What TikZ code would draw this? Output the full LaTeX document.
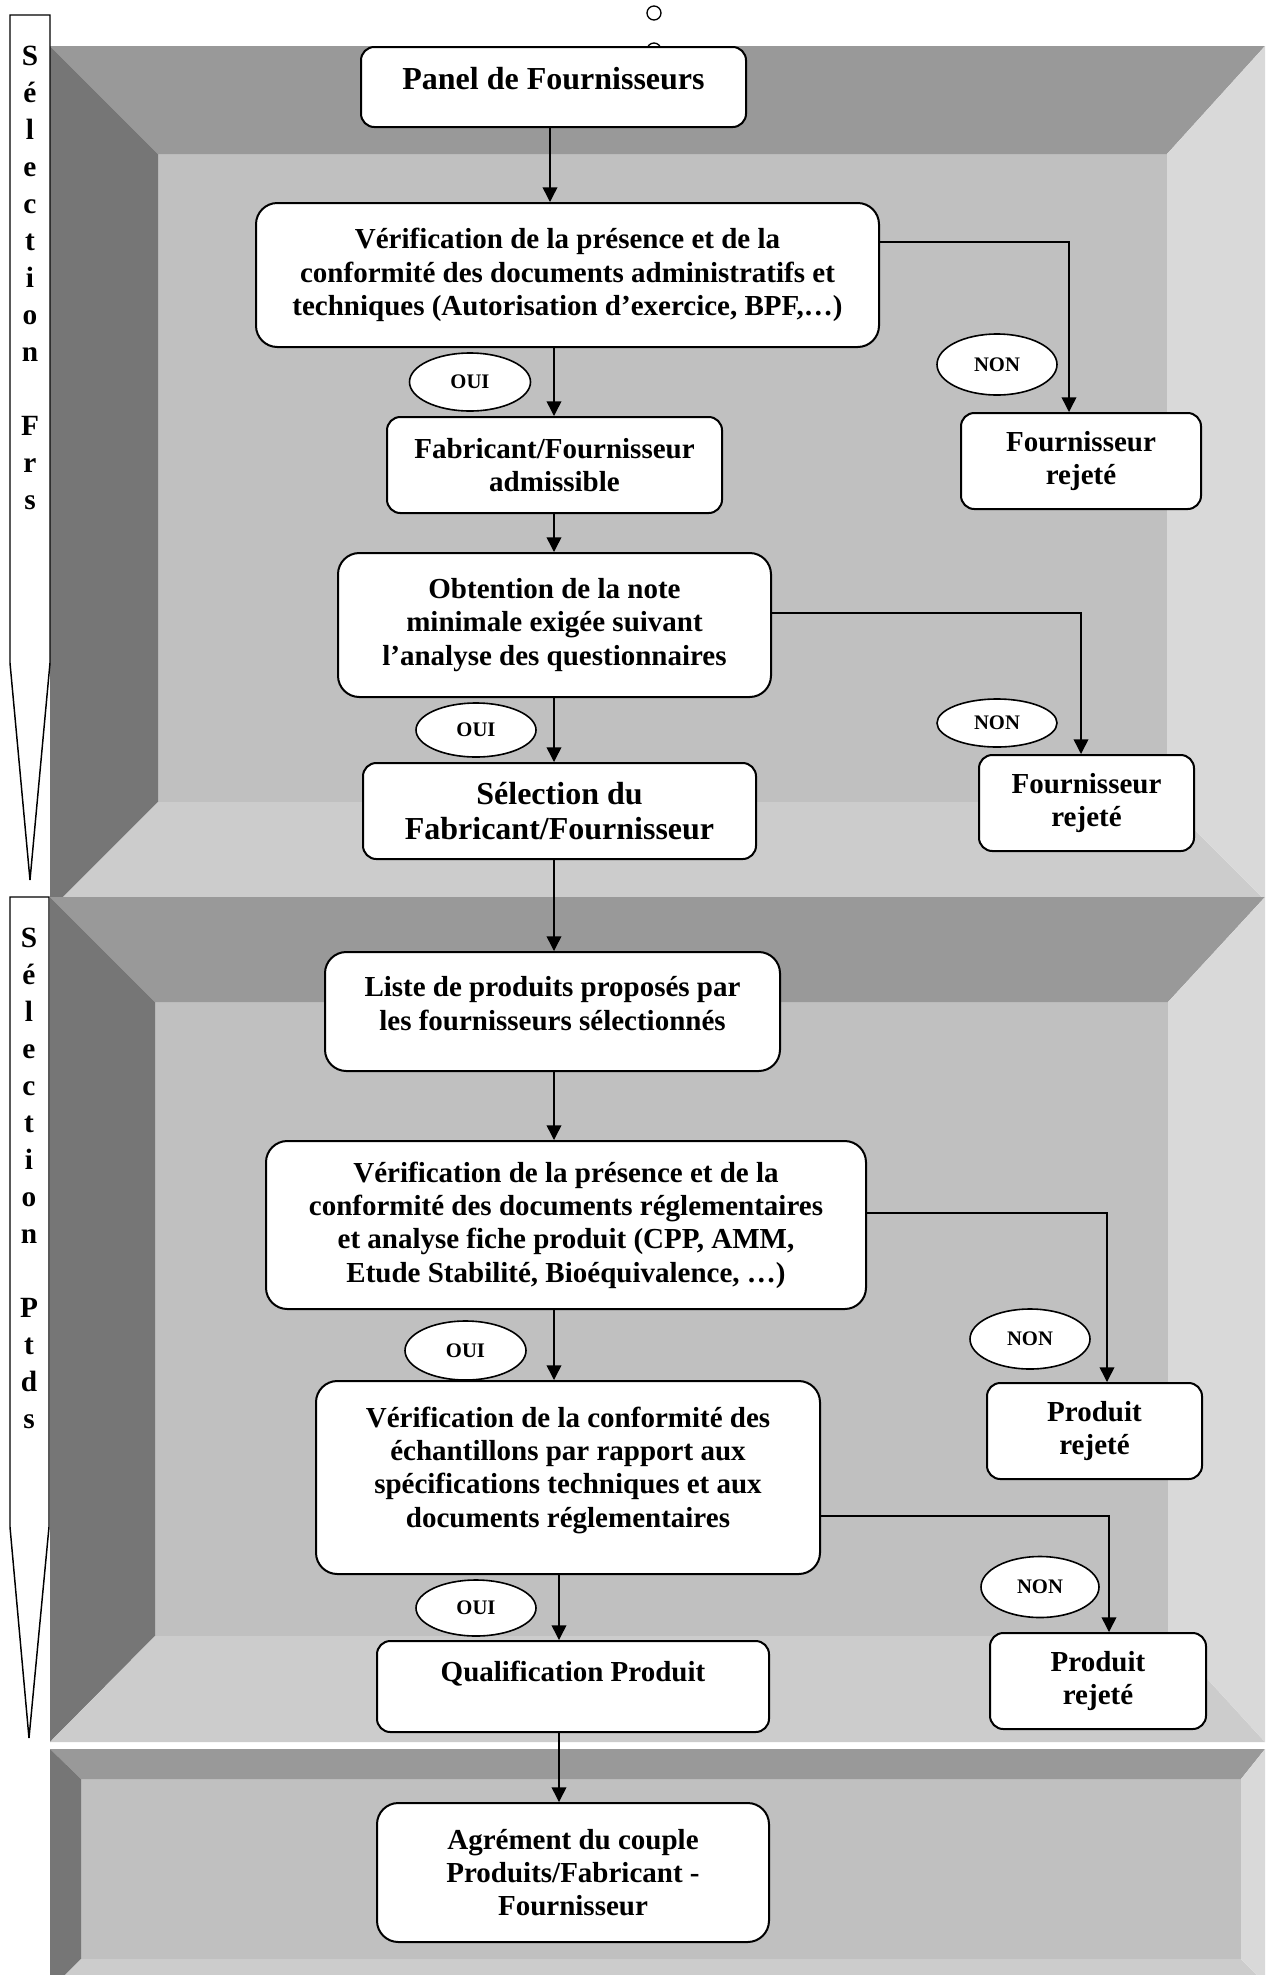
\documentclass[tikz,border=0pt]{standalone}
\usepackage{fontspec}
\setmainfont{Liberation Serif}
\usetikzlibrary{arrows.meta,shapes.geometric}
\definecolor{gTop}{HTML}{999999}
\definecolor{gLeft}{HTML}{767676}
\definecolor{gIn}{HTML}{C0C0C0}
\definecolor{gBot}{HTML}{CCCCCC}
\definecolor{gRight}{HTML}{D9D9D9}
\begin{document}
\begin{tikzpicture}[x=0.75pt,y=-0.75pt,
  rbox/.style={draw=black,fill=white,line width=1.5pt,rounded corners=10pt,align=center,inner sep=0pt,font=\bfseries\fontsize{21.75pt}{25pt}\selectfont},
  bigbox/.style={rbox,rounded corners=16pt},
  txt/.style={align=center,inner sep=0pt,font=\bfseries\fontsize{21.75pt}{25pt}\selectfont},
  bigtxt/.style={align=center,inner sep=0pt,font=\bfseries\fontsize{24pt}{26.25pt}\selectfont},
  ovalbox/.style={ellipse,draw=black,fill=white,line width=1.2pt,inner sep=0pt,font=\bfseries\fontsize{15.5pt}{18pt}\selectfont},
  arr/.style={line width=1.1pt,-{Triangle[length=11pt,width=11pt]}},
  vtxt/.style={align=center,inner sep=0pt,font=\bfseries\fontsize{22pt}{27.75pt}\selectfont},
  sidearrow/.style={draw=black,fill=white,line width=1.1pt,line join=miter}
]
\useasboundingbox (0,0) rectangle (1265,1975);
\fill[white] (0,0) rectangle (1265,1975);

% small circles at top
\draw[line width=1pt] (654,13) circle[radius=7];
\draw[line width=1pt] (654,50) circle[radius=7];

% ---- panel 1
\fill[gIn] (158,154) rectangle (1167,802);
\fill[gTop] (50,46) -- (1265,46) -- (1167,154) -- (158,154) -- cycle;
\fill[gLeft] (50,46) -- (158,154) -- (158,802) -- (63,897) -- (50,897) -- cycle;
\fill[gBot] (63,897) -- (158,802) -- (1167,802) -- (1262,897) -- cycle;
\fill[gRight] (1265,46) -- (1167,154) -- (1167,802) -- (1262,897) -- (1265,897) -- cycle;
% ---- panel 2
\fill[gIn] (155,1002) rectangle (1168,1636);
\fill[gTop] (50,897) -- (1265,897) -- (1168,1002) -- (155,1002) -- cycle;
\fill[gLeft] (50,897) -- (155,1002) -- (155,1636) -- (50,1742) -- cycle;
\fill[gBot] (50,1742) -- (155,1636) -- (1168,1636) -- (1265,1742) -- cycle;
\fill[gRight] (1265,897) -- (1168,1002) -- (1168,1636) -- (1265,1742) -- cycle;
% ---- panel 3
\fill[gIn] (81,1779) rectangle (1241,1959);
\fill[gTop] (50,1749) -- (1265,1749) -- (1241,1779) -- (81,1779) -- cycle;
\fill[gLeft] (50,1749) -- (81,1779) -- (81,1959) -- (65,1975) -- (50,1975) -- cycle;
\fill[gBot] (65,1975) -- (81,1959) -- (1241,1959) -- (1257,1975) -- cycle;
\fill[gRight] (1265,1749) -- (1241,1779) -- (1241,1959) -- (1257,1975) -- (1265,1975) -- cycle;

% ---- side arrows
\draw[sidearrow] (10,15) -- (50,15) -- (50,663) -- (30,880) -- (10,663) -- cycle;
\draw[sidearrow] (10,897) -- (49,897) -- (49,1527) -- (29,1738) -- (10,1527) -- cycle;
\node[vtxt,anchor=north] (lab1) at (30,45.5) {S\\é\\l\\e\\c\\t\\i\\o\\n\\~\\F\\r\\s};
\node[vtxt,anchor=north] (lab2) at (29,927.5) {S\\é\\l\\e\\c\\t\\i\\o\\n\\~\\P\\t\\d\\s};

% ---- boxes
\node[rbox,minimum width=288.75pt,minimum height=60pt,label={[bigtxt,yshift=6pt]center:{Panel de Fournisseurs}}] (panel) at (553.5,87) {};
\node[bigbox,minimum width=467.25pt,minimum height=108pt] (verif1) at (567.5,275) {Vérification de la présence et de la\\conformité des documents administratifs et\\techniques (Autorisation d’exercice, BPF,…)};
\node[rbox,minimum width=251.25pt,minimum height=72pt] (admiss) at (554.5,465) {Fabricant/Fournisseur\\admissible};
\node[rbox,minimum width=180pt,minimum height=72pt] (rejet1) at (1081,461) {Fournisseur\\rejeté};
\node[bigbox,minimum width=324.75pt,minimum height=108pt] (obtention) at (554.5,625) {Obtention de la note\\minimale exigée suivant\\l’analyse des questionnaires};
\node[rbox,font=\bfseries\fontsize{24pt}{26.25pt}\selectfont,minimum width=294.75pt,minimum height=72pt] (selection) at (559.5,811) {Sélection du\\Fabricant/Fournisseur};
\node[rbox,minimum width=161.25pt,minimum height=72pt] (rejet2) at (1086.5,803) {Fournisseur\\rejeté};

\node[bigbox,minimum width=341.25pt,minimum height=89.25pt,label={[txt,yshift=6pt]center:{Liste de produits proposés par\\les fournisseurs sélectionnés}}] (liste) at (552.5,1011.5) {};
\node[bigbox,minimum width=450pt,minimum height=126pt] (verif2) at (566,1225) {Vérification de la présence et de la\\conformité des documents réglementaires\\et analyse fiche produit (CPP, AMM,\\Etude Stabilité, Bioéquivalence, …)};
\node[rbox,minimum width=161.25pt,minimum height=72pt] (prej1) at (1094.5,1431) {Produit\\rejeté};
\node[bigbox,minimum width=378pt,minimum height=144.75pt,label={[txt,yshift=5.6pt]center:{Vérification de la conformité des\\échantillons par rapport aux\\spécifications techniques et aux\\documents réglementaires}}] (verif3) at (568,1477.5) {};
\node[rbox,minimum width=162pt,minimum height=72pt] (prej2) at (1098,1681) {Produit\\rejeté};
\node[rbox,minimum width=294pt,minimum height=68.25pt,label={[txt,yshift=10pt]center:{Qualification Produit}}] (qualif) at (573,1686.5) {};
\node[bigbox,minimum width=294pt,minimum height=104.25pt] (agrement) at (573,1872.5) {Agrément du couple\\Produits/Fabricant -\\Fournisseur};

% ---- OUI / NON
\node[ovalbox,minimum width=90.75pt,minimum height=43.5pt] (oui1) at (470,382) {OUI};
\node[ovalbox,minimum width=90pt,minimum height=45.75pt] (non1) at (997,364.5) {NON};
\node[ovalbox,minimum width=90pt,minimum height=40.5pt] (oui2) at (476,730) {OUI};
\node[ovalbox,minimum width=90pt,minimum height=36pt] (non2) at (997,723) {NON};
\node[ovalbox,minimum width=90.75pt,minimum height=44.25pt] (oui3) at (465.5,1350.5) {OUI};
\node[ovalbox,minimum width=90pt,minimum height=45pt] (non3) at (1030,1339) {NON};
\node[ovalbox,minimum width=90pt,minimum height=42pt] (oui4) at (476,1608) {OUI};
\node[ovalbox,minimum width=88.5pt,minimum height=45.75pt] (non4) at (1040,1587) {NON};

% ---- connectors
\coordinate (sp1) at (550,0);
\coordinate (sp2) at (554,0);
\coordinate (sp3) at (559,0);
\draw[arr] (panel.south -| sp1) -- (verif1.north -| sp1);
\draw[arr] (verif1.south -| sp2) -- (admiss.north -| sp2);
\draw[arr] (admiss.south -| sp2) -- (obtention.north -| sp2);
\draw[arr] (obtention.south -| sp2) -- (selection.north -| sp2);
\draw[arr] (selection.south -| sp2) -- (liste.north -| sp2);
\draw[arr] (liste.south -| sp2) -- (verif2.north -| sp2);
\draw[arr] (verif2.south -| sp2) -- (verif3.north -| sp2);
\draw[arr] (verif3.south -| sp3) -- (qualif.north -| sp3);
\draw[arr] (qualif.south -| sp3) -- (agrement.north -| sp3);

\coordinate (k1) at (1069,242);
\coordinate (k2) at (1081,613);
\coordinate (k3) at (1107,1213);
\coordinate (k4) at (1109,1516);
\draw[arr] (verif1.east |- k1) -- (k1) -- (k1 |- rejet1.north);
\draw[arr] (obtention.east |- k2) -- (k2) -- (k2 |- rejet2.north);
\draw[arr] (verif2.east |- k3) -- (k3) -- (k3 |- prej1.north);
\draw[arr] (verif3.east |- k4) -- (k4) -- (k4 |- prej2.north);
\end{tikzpicture}
\end{document}
